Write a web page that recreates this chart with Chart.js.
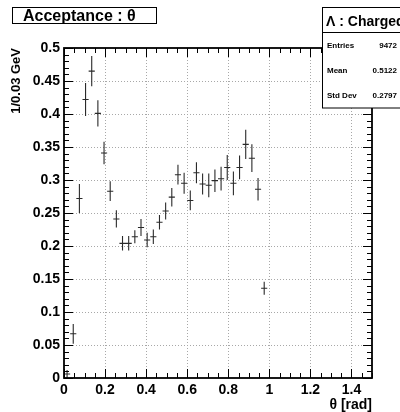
<!DOCTYPE html>
<html>
<head>
<meta charset="utf-8">
<script src="https://cdn.jsdelivr.net/npm/chart.js@4/dist/chart.umd.min.js"></script>
<style>
  html, body { margin: 0; padding: 0; background: #fff; }
  #wrap { width: 400px; height: 412px; }
</style>
</head>
<body>
<div id="wrap"><canvas id="c" width="400" height="412"></canvas></div>
<script>
// Bin centres (bin width 0.03 rad), acceptance per bin and its statistical error
const binCenters = [0.015, 0.045, 0.075, 0.105, 0.135, 0.165, 0.195, 0.225, 0.255, 0.285,
                    0.315, 0.345, 0.375, 0.405, 0.435, 0.465, 0.495, 0.525, 0.555, 0.585,
                    0.615, 0.645, 0.675, 0.705, 0.735, 0.765, 0.795, 0.825, 0.855, 0.885,
                    0.915, 0.945, 0.975];
const acceptance = [0.006, 0.067, 0.272, 0.422, 0.465, 0.401, 0.341, 0.283, 0.241, 0.204,
                    0.204, 0.214, 0.228, 0.209, 0.214, 0.236, 0.253, 0.274, 0.308, 0.295,
                    0.269, 0.311, 0.294, 0.292, 0.299, 0.302, 0.319, 0.295, 0.319, 0.354,
                    0.333, 0.286, 0.136];
const errors     = [0.006, 0.015, 0.022, 0.025, 0.023, 0.020, 0.017, 0.015, 0.013, 0.011,
                    0.011, 0.010, 0.013, 0.011, 0.011, 0.011, 0.013, 0.014, 0.015, 0.016,
                    0.015, 0.016, 0.016, 0.018, 0.017, 0.018, 0.019, 0.018, 0.018, 0.022,
                    0.021, 0.017, 0.010];
const binWidth = 0.03;

// Axis ticks
const xMajorTicks = [0, 0.2, 0.4, 0.6, 0.8, 1.0, 1.2, 1.4];
const yMajorTicks = [0, 0.05, 0.1, 0.15, 0.2, 0.25, 0.3, 0.35, 0.4, 0.45, 0.5];
const xMinorStep = 0.05;
const yMinorStep = 0.01;

// Texts
const histTitle = 'Acceptance : \u03B8';
const statsTitle = '\u039B : Charged';
const statsNames = ['Entries', 'Mean', 'Std Dev'];
const statsValues = ['9472', '0.5122', '0.2797'];
const xTitle = '\u03B8 [rad]';
const yTitle = '1/0.03 GeV';

const FONT = '"Liberation Sans", Arial, Helvetica, sans-serif';

function fmt(v) { return String(+v.toFixed(2)); }

// Dotted grid at the major tick positions
const dottedGrid = {
  id: 'dottedGrid',
  beforeDatasetsDraw(chart) {
    const { ctx, chartArea: a, scales: { x, y } } = chart;
    ctx.save();
    ctx.strokeStyle = '#a8a8a8';
    ctx.lineWidth = 1;
    ctx.setLineDash([1, 2]);
    ctx.beginPath();
    x.ticks.forEach(t => {
      const px = Math.round(x.getPixelForValue(t.value)) + 0.5;
      if (px <= a.left + 1 || px >= a.right - 1) return;
      ctx.moveTo(px, a.top); ctx.lineTo(px, a.bottom);
    });
    y.ticks.forEach(t => {
      const py = Math.round(y.getPixelForValue(t.value)) + 0.5;
      if (py <= a.top + 1 || py >= a.bottom - 1) return;
      ctx.moveTo(a.left, py); ctx.lineTo(a.right, py);
    });
    ctx.stroke();
    ctx.restore();
  }
};

// Error bars: vertical ±error, horizontal across the bin width
const errorBars = {
  id: 'errorBars',
  afterDatasetsDraw(chart) {
    const { ctx, scales: { x, y } } = chart;
    ctx.save();
    ctx.strokeStyle = '#2a2a2a';
    ctx.lineWidth = 1.1;
    ctx.beginPath();
    binCenters.forEach((c, i) => {
      const px = x.getPixelForValue(c);
      const py = y.getPixelForValue(acceptance[i]);
      const lo = y.getPixelForValue(Math.max(0, acceptance[i] - errors[i]));
      const hi = y.getPixelForValue(acceptance[i] + errors[i]);
      ctx.moveTo(px, lo); ctx.lineTo(px, hi);
      ctx.moveTo(x.getPixelForValue(c - binWidth / 2), py);
      ctx.lineTo(x.getPixelForValue(c + binWidth / 2), py);
    });
    ctx.stroke();
    ctx.restore();
  }
};

// Frame with inward tick marks on all four sides, then the title and stats boxes
const frameAndBoxes = {
  id: 'frameAndBoxes',
  afterDraw(chart) {
    const { ctx, chartArea: a, scales: { x, y } } = chart;
    ctx.save();
    ctx.strokeStyle = '#000';
    ctx.lineWidth = 1;
    ctx.beginPath();
    const eps = 1e-9;
    // x ticks (bottom and top)
    for (let v = 0; v <= 1.5 + eps; v += xMinorStep) {
      const major = xMajorTicks.some(t => Math.abs(t - v) < 1e-6);
      const len = major ? 9 : 5;
      const px = Math.round(x.getPixelForValue(v)) + 0.5;
      ctx.moveTo(px, a.bottom); ctx.lineTo(px, a.bottom - len);
      ctx.moveTo(px, a.top); ctx.lineTo(px, a.top + len);
    }
    // y ticks (left and right)
    for (let v = 0; v <= 0.5 + eps; v += yMinorStep) {
      const major = yMajorTicks.some(t => Math.abs(t - v) < 1e-6);
      const len = major ? 9 : 5;
      const py = Math.round(y.getPixelForValue(v)) + 0.5;
      ctx.moveTo(a.left, py); ctx.lineTo(a.left + len, py);
      ctx.moveTo(a.right, py); ctx.lineTo(a.right - len, py);
    }
    ctx.stroke();
    ctx.lineWidth = 1.8;
    ctx.strokeRect(a.left, a.top, a.right - a.left, a.bottom - a.top);

    // Histogram title box
    ctx.lineWidth = 1;
    ctx.fillStyle = '#fff';
    ctx.fillRect(12.5, 7.5, 144, 16);
    ctx.strokeRect(12.5, 7.5, 144, 16);
    ctx.fillStyle = '#000';
    ctx.font = 'bold 16px ' + FONT;
    ctx.textBaseline = 'alphabetic';
    ctx.textAlign = 'left';
    ctx.fillText(histTitle, 23, 21);

    // Stats box
    ctx.fillStyle = '#fff';
    ctx.fillRect(322.5, 7.5, 80, 100.5);
    ctx.strokeRect(322.5, 7.5, 80, 100.5);
    ctx.beginPath();
    ctx.moveTo(322.5, 32.5); ctx.lineTo(400, 32.5);
    ctx.stroke();
    ctx.fillStyle = '#000';
    ctx.font = 'bold 14px ' + FONT;
    ctx.fillText(statsTitle, 326, 26);
    ctx.font = 'bold 8px ' + FONT;
    ctx.textBaseline = 'middle';
    statsNames.forEach((n, i) => {
      const yy = 46 + i * 25;
      ctx.textAlign = 'left';
      ctx.fillText(n, 327, yy);
      ctx.textAlign = 'right';
      ctx.fillText(statsValues[i], 397, yy);
    });
    ctx.restore();
  }
};

const gridStyle = { display: false, drawTicks: false };

new Chart(document.getElementById('c'), {
  type: 'scatter',
  data: {
    datasets: [{
      data: binCenters.map((c, i) => ({ x: c, y: acceptance[i] })),
      pointRadius: 0,
      pointHoverRadius: 0,
      showLine: false
    }]
  },
  options: {
    responsive: false,
    animation: false,
    events: [],
    layout: { padding: { top: 48, right: 28, left: 0, bottom: 0 } },
    plugins: { legend: { display: false }, tooltip: { enabled: false } },
    scales: {
      x: {
        type: 'linear',
        min: 0, max: 1.5,
        afterBuildTicks(s) { s.ticks = xMajorTicks.map(v => ({ value: v })); },
        afterFit(s) { s.height = 34; },
        grid: gridStyle,
        border: { display: false },
        ticks: {
          padding: 4,
          maxRotation: 0,
          autoSkip: false,
          color: '#000',
          font: { family: FONT, size: 14, weight: 'bold' },
          callback: v => fmt(v)
        },
        title: {
          display: true,
          text: xTitle,
          align: 'end',
          color: '#000',
          padding: { top: 0, bottom: 0 },
          font: { family: FONT, size: 14, weight: 'bold', lineHeight: 1 }
        }
      },
      y: {
        type: 'linear',
        min: 0, max: 0.5,
        afterBuildTicks(s) { s.ticks = yMajorTicks.map(v => ({ value: v })); },
        afterFit(s) { s.width = 64; },
        grid: gridStyle,
        border: { display: false },
        ticks: {
          padding: 4,
          autoSkip: false,
          color: '#000',
          font: { family: FONT, size: 14, weight: 'bold' },
          callback: v => fmt(v)
        },
        title: {
          display: true,
          text: yTitle,
          align: 'end',
          color: '#000',
          padding: { top: 10, bottom: 0 },
          font: { family: FONT, size: 13, weight: 'bold', lineHeight: 1 }
        }
      }
    }
  },
  plugins: [dottedGrid, errorBars, frameAndBoxes]
});
</script>
</body>
</html>
